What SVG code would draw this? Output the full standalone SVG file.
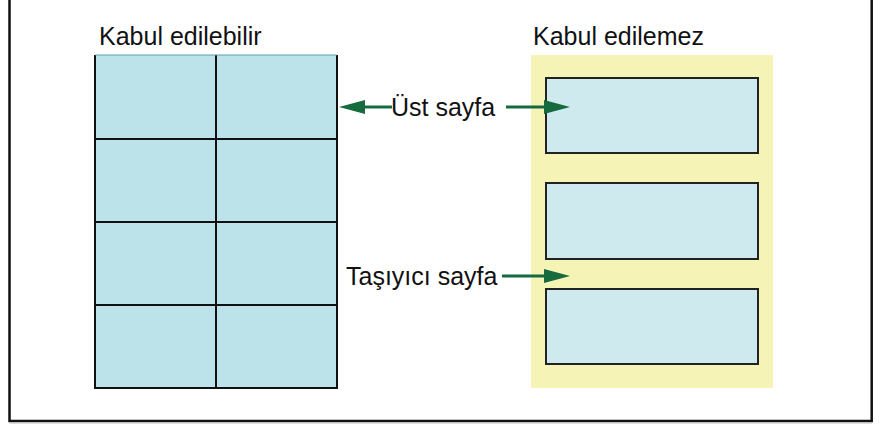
<svg xmlns="http://www.w3.org/2000/svg" width="883" height="424" viewBox="0 0 883 424">
<defs>
<style>
.t{font-family:"Liberation Sans",Arial,sans-serif;font-size:25px;fill:#111}
.cell{fill:#bde3ea;stroke:#111;stroke-width:2}
.sheet{fill:#cfeaee;stroke:#222;stroke-width:2}
.con{stroke:#156a3e;stroke-width:3;fill:none}
.head{fill:#156a3e}
</style>
</defs>
<rect width="883" height="424" fill="#fff"/>
<g id="frame">
<path d="M9.5,0 V421 H871.7 V0" fill="none" stroke="#111" stroke-width="2.5"/>
<line x1="9.5" y1="423" x2="872" y2="423" stroke="#bbb" stroke-width="1"/>
</g>
<g id="acceptable">
<text class="t" x="99" y="45">Kabul edilebilir</text>
<rect x="95" y="55" width="242" height="333" fill="#bde3ea"/>
<path d="M95,55 V388 H337 V55 M216,55 V388 M95,139 H337 M95,222 H337 M95,305 H337" fill="none" stroke="#111" stroke-width="2"/>
<line x1="95" y1="55" x2="337" y2="55" stroke="#5aa0a8" stroke-width="1"/>
</g>
<g id="unacceptable">
<text class="t" x="533" y="45">Kabul edilemez</text>
<rect x="531" y="55" width="242" height="333" fill="#f5f3b5"/>
<rect class="sheet" x="546" y="78" width="212" height="75"/>
<rect class="sheet" x="546" y="183" width="212" height="76"/>
<rect class="sheet" x="546" y="289" width="212" height="75"/>
</g>
<g id="label-top">
<text class="t" x="391" y="116">Üst sayfa</text>
</g>
<g id="label-carrier">
<text class="t" x="346" y="285">Taşıyıcı sayfa</text>
</g>
<g id="connectors">
<line class="con" x1="362" y1="107" x2="392" y2="107"/>
<polygon class="head" points="339,107 365,100 365,114"/>
<line class="con" x1="506" y1="107" x2="546" y2="107"/>
<polygon class="head" points="570,107 544,100 544,114"/>
<line class="con" x1="502" y1="276" x2="546" y2="276"/>
<polygon class="head" points="570,276 544,269 544,283"/>
</g>
</svg>
